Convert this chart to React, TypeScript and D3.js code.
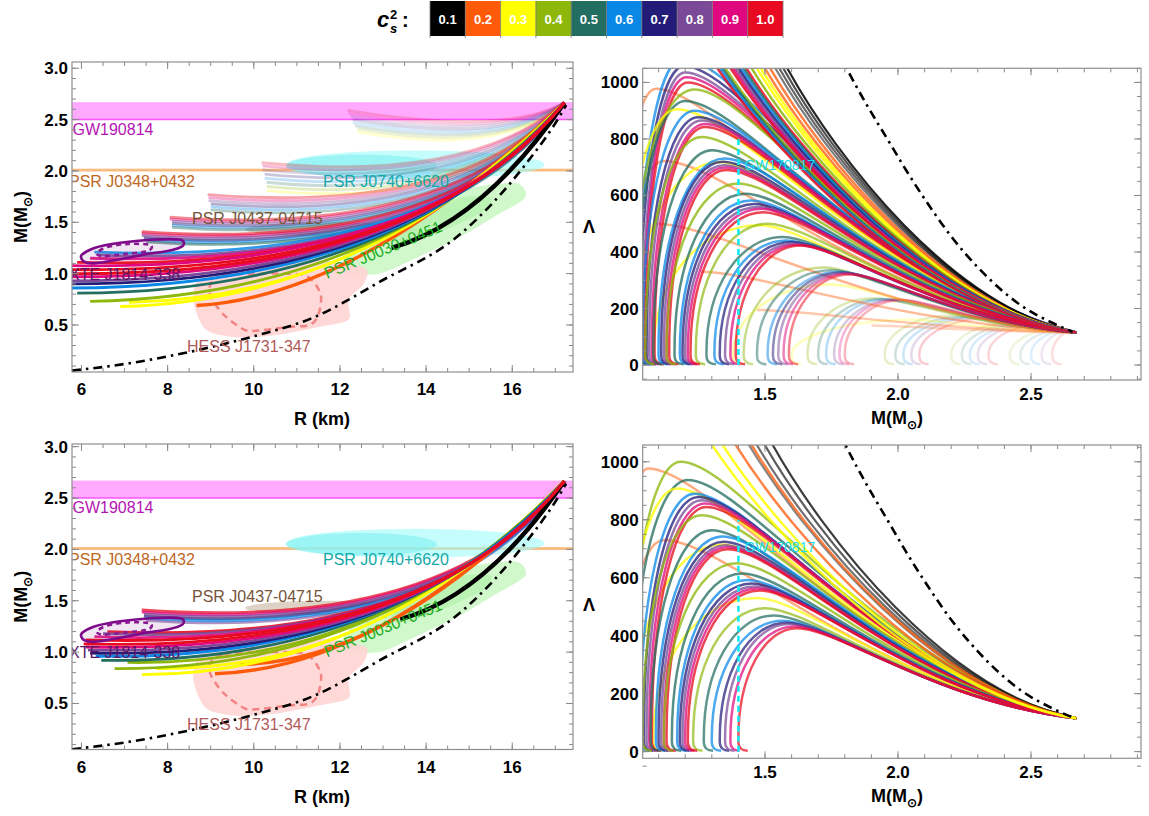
import React from "react";
import * as d3 from "d3";

const FONT = "'Liberation Sans', Arial, Helvetica, sans-serif";

// ---------- legend ----------
const CS2_VALUES = ["0.1", "0.2", "0.3", "0.4", "0.5", "0.6", "0.7", "0.8", "0.9", "1.0"];
const CS2_COLORS = ["#000000", "#ff5a0a", "#ffff00", "#8db70a", "#226e60", "#0a88e8", "#221c78", "#7a4a98", "#e0087e", "#e80a20"];

// ---------- ticks ----------
const R_TICKS = [6, 8, 10, 12, 14, 16];
const M_TICKS_MR = [0.5, 1.0, 1.5, 2.0, 2.5, 3.0];
const M_TICKS_LM = [1.5, 2.0, 2.5];
const LAMBDA_TICKS = [0, 200, 400, 600, 800, 1000];

// ---------- M-R curves: all end at the same point ----------
const MR_END = [17.21, 2.665];
// [R0, M0, Rcontrol, Mcontrol, cs2 index, opacity]
const mrTopCurves = [
  [12.18, 2.59, 15.8, 2.34, 9, 0.2], [12.2, 2.56, 15.8, 2.31, 8, 0.2], [12.25, 2.53, 15.8, 2.28, 7, 0.2],
  [12.3, 2.5, 15.8, 2.25, 6, 0.18], [12.3, 2.47, 15.8, 2.22, 5, 0.18], [12.35, 2.44, 15.8, 2.19, 4, 0.18],
  [12.4, 2.41, 15.8, 2.16, 3, 0.18], [12.4, 2.38, 15.8, 2.13, 2, 0.18],
  [10.18, 2.08, 15.0, 1.88, 9, 0.28], [10.2, 2.05, 15.0, 1.85, 8, 0.28], [10.2, 2.01, 15.0, 1.81, 7, 0.25],
  [10.25, 1.97, 15.0, 1.77, 6, 0.25], [10.25, 1.93, 15.0, 1.73, 5, 0.25], [10.3, 1.89, 15.0, 1.69, 4, 0.25],
  [10.3, 1.85, 15.0, 1.65, 3, 0.25], [10.3, 1.81, 15.0, 1.61, 2, 0.25],
  [8.93, 1.77, 14.8, 1.57, 9, 0.38], [8.95, 1.74, 14.8, 1.54, 8, 0.35], [8.95, 1.71, 14.8, 1.51, 7, 0.35],
  [9.0, 1.68, 14.8, 1.48, 6, 0.35], [9.0, 1.65, 14.8, 1.45, 5, 0.35], [9.0, 1.62, 14.8, 1.42, 4, 0.35],
  [8.05, 1.55, 14.6, 1.35, 9, 0.48], [8.05, 1.53, 14.6, 1.33, 8, 0.45], [8.1, 1.51, 14.6, 1.31, 7, 0.45],
  [8.1, 1.49, 14.6, 1.29, 6, 0.42], [8.1, 1.47, 14.6, 1.27, 5, 0.42], [8.1, 1.45, 14.6, 1.25, 4, 0.42],
  [7.4, 1.41, 14.5, 1.2, 9, 0.62], [7.4, 1.39, 14.5, 1.18, 8, 0.6], [7.4, 1.37, 14.5, 1.16, 7, 0.6],
  [7.45, 1.35, 14.5, 1.14, 6, 0.58], [7.5, 1.33, 14.5, 1.12, 5, 0.58], [7.5, 1.31, 14.5, 1.1, 4, 0.58],
  [13.2, 1.25, 15.3, 1.5, 0, 1],
  [6.3, 1.21, 14.3, 1.08, 5, 0.85], [6.4, 1.18, 14.3, 1.06, 7, 0.9], [6.2, 1.15, 14.2, 1.04, 8, 0.9],
  [5.9, 1.11, 14.1, 1.02, 9, 0.95],
  [8.67, 0.69, 12.5, 0.78, 1, 1], [6.9, 0.68, 12.6, 0.73, 2, 1], [7.1, 0.72, 12.8, 0.76, 2, 1],
  [6.2, 0.73, 13.0, 0.78, 3, 1], [5.9, 0.81, 13.3, 0.82, 4, 1], [5.6, 0.86, 13.5, 0.85, 5, 1],
  [5.6, 0.9, 13.6, 0.88, 6, 1], [5.6, 0.93, 13.7, 0.91, 7, 1], [5.6, 0.97, 13.8, 0.94, 8, 1],
  [5.6, 1.08, 14.0, 1.0, 8, 1], [5.6, 1.04, 14.0, 0.98, 9, 1], [5.6, 1.0, 13.9, 0.96, 9, 1],
];
const mrBottomCurves = [
  [7.4, 1.41, 14.6, 1.2, 9, 0.75], [7.4, 1.39, 14.6, 1.18, 8, 0.75], [7.45, 1.37, 14.6, 1.16, 7, 0.75],
  [7.45, 1.35, 14.6, 1.14, 6, 0.7], [7.5, 1.33, 14.6, 1.12, 5, 0.7], [7.5, 1.31, 14.6, 1.1, 7, 0.6],
  [13.4, 1.32, 15.4, 1.55, 0, 1],
  [6.6, 1.2, 14.3, 1.06, 9, 0.9], [6.5, 1.18, 14.3, 1.05, 7, 0.9], [6.3, 1.15, 14.2, 1.03, 8, 0.9],
  [9.1, 0.79, 13.0, 0.84, 1, 1], [9.67, 0.88, 13.2, 0.9, 1, 1], [7.4, 0.78, 12.8, 0.78, 2, 1],
  [7.74, 0.84, 13.0, 0.82, 2, 1], [6.77, 0.84, 13.0, 0.82, 3, 1], [7.07, 0.9, 13.1, 0.86, 3, 1],
  [6.46, 0.92, 13.3, 0.88, 4, 1], [6.33, 0.96, 13.5, 0.91, 5, 1], [6.2, 0.99, 13.7, 0.93, 6, 1],
  [6.15, 1.02, 13.8, 0.95, 7, 1], [6.1, 1.05, 13.9, 0.97, 8, 1], [6.05, 1.08, 14.0, 0.99, 9, 1],
  [6.1, 1.12, 14.1, 1.01, 9, 1],
];

// causality-type dash-dot bound in the M-R plane [R, M]
const causalMR = [[5.78, 0.055], [7, 0.12], [8.75, 0.26], [10, 0.39], [11.37, 0.57], [12.92, 0.92], [14.78, 1.38], [16.3, 2.06], [17.14, 2.56], [17.25, 2.64]];

// observations in M-R
const GW190814_BAND = [2.5, 2.67];
const J0348_BAND = [1.995, 2.022];
const J0740_OUTER = [13.75, 2.06, 3.0, 0.14];
const J0740_INNER = [12.5, 2.05, 1.75, 0.11];
const J0437_ELLIPSE = [11.8, 1.43, 2.0, 0.07];
const J0030_REGION = [[12.0, 1.02], [12.9, 1.0], [13.8, 1.16], [14.8, 1.36], [15.6, 1.56], [16.3, 1.74], [16.1, 1.88], [15.1, 1.84], [14.1, 1.68], [13.1, 1.48], [12.3, 1.26]];
const J0030_INNER = [[13.4, 1.28], [14.4, 1.42], [15.3, 1.6], [15.5, 1.74], [14.8, 1.74], [13.9, 1.56], [13.2, 1.4]];
const HESS_REGION = [[8.6, 0.72], [8.7, 0.95], [9.2, 1.1], [10.5, 1.15], [11.8, 1.12], [12.6, 1.05], [12.55, 0.9], [12.2, 0.75], [12.2, 0.55], [11.5, 0.48], [10.5, 0.4], [9.6, 0.38], [8.9, 0.45]];
const HESS_CONTOUR = [[9.0, 0.9], [9.3, 0.98], [10.2, 1.0], [11.2, 0.98], [11.55, 0.8], [11.5, 0.6], [11.3, 0.5], [10.8, 0.48], [10.2, 0.45], [9.8, 0.45], [9.3, 0.6], [9.0, 0.78]];
const XTE_OUTER = [[6.0, 1.18], [6.3, 1.25], [6.9, 1.3], [7.6, 1.33], [8.3, 1.33], [8.35, 1.27], [8.0, 1.22], [7.5, 1.19], [6.9, 1.14], [6.3, 1.1], [6.05, 1.12]];
const XTE_INNER = [[6.35, 1.2], [6.6, 1.26], [7.1, 1.29], [7.6, 1.28], [7.55, 1.22], [7.0, 1.19], [6.5, 1.17]];

// ---------- Lambda-M curves ----------
const LM_END = [2.67, 115];
// arches [M at base, M at peak, Lambda at peak, cs2 index, opacity]
const lmTopArches = [
  [1.02, 1.19, 1085, 5, 0.9], [1.03, 1.196, 1058, 6, 0.9], [1.04, 1.2, 1035, 7, 0.9], [1.045, 1.205, 1018, 8, 0.9], [1.05, 1.21, 1000, 9, 0.9],
  [0.99, 1.235, 975, 3, 0.9], [1.01, 1.2, 934, 4, 0.9], [0.97, 1.17, 905, 2, 0.9], [1.04, 1.235, 900, 5, 0.9], [1.055, 1.249, 877, 6, 0.9],
  [1.065, 1.262, 865, 7, 0.9], [1.075, 1.275, 853, 8, 0.9], [1.085, 1.275, 842, 9, 0.9],
  [1.05, 1.262, 807, 3, 0.9], [1.0, 1.33, 718, 2, 0.85], [1.08, 1.3, 760, 4, 0.9], [1.1, 1.348, 731, 5, 0.9], [1.11, 1.341, 719, 6, 0.9],
  [1.12, 1.345, 707, 7, 0.9], [1.13, 1.35, 699, 8, 0.9], [1.14, 1.354, 690, 9, 0.9],
  [1.13, 1.4, 642, 3, 0.9], [1.08, 1.48, 495, 2, 0.8], [1.16, 1.427, 606, 4, 0.9], [1.18, 1.447, 582, 5, 0.9], [1.19, 1.46, 570, 6, 0.9],
  [1.2, 1.472, 559, 7, 0.9], [1.21, 1.485, 553, 8, 0.9], [1.22, 1.493, 541, 9, 0.9],
  [1.24, 1.51, 500, 3, 0.8], [1.28, 1.566, 453, 4, 0.85], [1.31, 1.58, 441, 5, 0.85], [1.33, 1.6, 435, 6, 0.85],
  [1.35, 1.61, 429, 7, 0.85], [1.37, 1.62, 426, 8, 0.85], [1.39, 1.632, 423, 9, 0.85],
  [1.42, 1.72, 345, 3, 0.55], [1.38, 1.75, 285, 2, 0.4], [1.47, 1.75, 335, 4, 0.6], [1.51, 1.78, 330, 5, 0.6],
  [1.53, 1.79, 327, 6, 0.6], [1.55, 1.8, 325, 7, 0.6], [1.57, 1.81, 323, 8, 0.6], [1.59, 1.82, 320, 9, 0.6],
  [1.66, 1.91, 236, 3, 0.35], [1.6, 2.05, 160, 2, 0.28], [1.7, 1.94, 234, 4, 0.35], [1.73, 1.96, 233, 5, 0.35],
  [1.76, 1.99, 232, 7, 0.35], [1.78, 2.0, 231, 8, 0.35], [1.8, 2.02, 230, 9, 0.35],
  [1.95, 2.2, 175, 3, 0.25], [1.99, 2.25, 172, 4, 0.25], [2.02, 2.28, 170, 5, 0.25], [2.05, 2.3, 168, 7, 0.25], [2.08, 2.33, 165, 9, 0.25],
  [2.2, 2.42, 148, 3, 0.2], [2.24, 2.45, 145, 4, 0.2], [2.27, 2.47, 142, 5, 0.2], [2.3, 2.49, 140, 7, 0.2], [2.34, 2.51, 138, 9, 0.2],
  [2.42, 2.6, 128, 3, 0.16], [2.46, 2.62, 125, 4, 0.16], [2.5, 2.63, 122, 5, 0.16], [2.54, 2.64, 120, 7, 0.16], [2.58, 2.65, 118, 9, 0.16],
  [0.95, 1.09, 978, 1, 0.6], [0.97, 1.12, 722, 1, 0.6],
];
// curves starting mid-plot [M start, Lambda start, cs2 index, opacity]
const lmTopFlats = [[1.09, 500, 1, 0.55], [1.26, 330, 1, 0.5], [1.47, 195, 1, 0.4], [1.9, 140, 1, 0.3]];
// curves entering from above the frame [M at top, cs2 index, opacity]
const lmTopDescents = [
  [1.575, 0, 1], [1.56, 0, 0.8], [1.545, 0, 0.7], [1.53, 0, 0.6], [1.51, 1, 0.9], [1.49, 1, 0.9],
  [1.475, 2, 1], [1.46, 2, 1], [1.44, 3, 1], [1.42, 9, 1], [1.41, 4, 1], [1.4, 5, 1], [1.39, 6, 1],
  [1.38, 7, 1], [1.37, 8, 1], [1.36, 9, 1], [1.34, 3, 1], [1.33, 4, 1], [1.32, 5, 1], [1.31, 9, 1],
];
const lmBottomArches = [
  [0.99, 1.183, 1000, 3, 0.9], [0.95, 1.06, 977, 1, 0.6], [1.0, 1.21, 937, 4, 0.9], [0.97, 1.17, 908, 2, 0.9],
  [1.03, 1.235, 890, 5, 0.9], [1.045, 1.249, 879, 6, 0.9], [1.055, 1.262, 867, 7, 0.9], [1.065, 1.275, 856, 8, 0.9], [1.075, 1.28, 844, 9, 0.9],
  [1.04, 1.262, 816, 3, 0.9], [0.96, 1.12, 730, 1, 0.6], [1.0, 1.34, 715, 2, 0.85], [1.07, 1.3, 764, 4, 0.9], [1.09, 1.34, 742, 5, 0.9],
  [1.1, 1.345, 724, 6, 0.9], [1.11, 1.35, 712, 7, 0.9], [1.12, 1.355, 705, 8, 0.9], [1.13, 1.36, 698, 9, 0.9],
  [1.12, 1.394, 650, 3, 0.9], [1.08, 1.47, 530, 2, 0.8], [1.15, 1.414, 615, 4, 0.9], [1.17, 1.434, 592, 5, 0.9],
  [1.18, 1.45, 580, 6, 0.9], [1.19, 1.46, 570, 7, 0.9], [1.2, 1.47, 563, 8, 0.9], [1.21, 1.48, 556, 9, 0.9],
  [1.23, 1.5, 495, 3, 0.8], [1.27, 1.533, 470, 4, 0.85], [1.3, 1.566, 452, 5, 0.85], [1.33, 1.58, 445, 6, 0.85],
  [1.35, 1.59, 440, 7, 0.85], [1.37, 1.61, 432, 8, 0.85], [1.4, 1.62, 426, 9, 0.85],
];
const lmBottomFlats = [];
const lmBottomDescents = [
  [1.52, 0, 0.9], [1.49, 0, 0.75], [1.46, 0, 0.65], [1.43, 0, 0.55], [1.44, 1, 0.9], [1.38, 1, 0.9], [1.33, 2, 1], [1.29, 2, 1],
];
const causalLM = [[1.78, 1100], [1.804, 1055], [1.883, 920], [1.963, 795], [2.03, 690], [2.12, 560], [2.2, 455], [2.306, 340], [2.464, 210], [2.583, 148], [2.656, 118]];
const GW170817_M = 1.4;
const GW170817_TOP = 800;

// ---------- scales ----------
const xMR = d3.scaleLinear().domain([5.78, 17.41]).range([72, 573]);
const yTL = d3.scaleLinear().domain([0.042, 3.061]).range([372, 62]);
const yBL = d3.scaleLinear().domain([0.052, 3.026]).range([749.5, 444]);
const xLM = d3.scaleLinear().domain([1.0402, 2.9135]).range([642.7, 1141]);
const yTR = d3.scaleLinear().domain([-53, 1050]).range([380, 68.3]);
const yBR = d3.scaleLinear().domain([-23, 1058]).range([758.3, 445]);

// ---------- path helpers ----------
function mrPath(x: any, y: any, c: number[]) {
  const p = d3.path();
  p.moveTo(x(c[0]), y(c[1]));
  p.quadraticCurveTo(x(c[2]), y(c[3]), x(MR_END[0]), y(MR_END[1]));
  return p.toString();
}
function descendTo(p: any, x: any, y: any, Ms: number, Ls: number) {
  const [Me, Le] = LM_END;
  p.bezierCurveTo(x(Ms + 0.15 * (Me - Ms)), y(Ls), x(Me - 0.5 * (Me - Ms)), y(Le + 0.18 * (Ls - Le)), x(Me), y(Le));
}
function archPath(x: any, y: any, a: number[]) {
  const [Mb, Mp, Lp] = a;
  const p = d3.path();
  p.moveTo(x(Mb + 0.035), y(3));
  p.quadraticCurveTo(x(Mb), y(3), x(Mb), y(32));
  p.bezierCurveTo(x(Mb - 0.004), y(0.62 * Lp), x(Mb + 0.45 * (Mp - Mb)), y(Lp), x(Mp), y(Lp));
  descendTo(p, x, y, Mp, Lp);
  return p.toString();
}
function flatPath(x: any, y: any, f: number[]) {
  const p = d3.path();
  p.moveTo(x(f[0]), y(f[1]));
  descendTo(p, x, y, f[0], f[1]);
  return p.toString();
}
function descentPath(x: any, y: any, Mt: number, Ltop: number) {
  const [Me, Le] = LM_END;
  const p = d3.path();
  p.moveTo(x(Mt), y(Ltop));
  p.bezierCurveTo(x(Mt + 0.18 * (Me - Mt)), y(Ltop - 0.36 * (Ltop - Le)), x(Me - 0.42 * (Me - Mt)), y(Le + 0.09 * (Ltop - Le)), x(Me), y(Le));
  return p.toString();
}

// ---------- frame ----------
function Frame({ x, y, xMajor, xMinor, yMajor, yMinor, xFmt, yFmt, xLabOff }: any) {
  const [xl, xr] = x.range();
  const [yb, yt] = y.range();
  const MJ = 7, MN = 4;
  const tc = "#8a8a8a";
  return (
    <g>
      {xMinor.map((v: number, i: number) => (
        <g key={"xn" + i} stroke={tc} strokeWidth={1}>
          <line x1={x(v)} x2={x(v)} y1={yb} y2={yb - MN} />
          <line x1={x(v)} x2={x(v)} y1={yt} y2={yt + MN} />
        </g>
      ))}
      {yMinor.map((v: number, i: number) => (
        <g key={"yn" + i} stroke={tc} strokeWidth={1}>
          <line x1={xl} x2={xl + MN} y1={y(v)} y2={y(v)} />
          <line x1={xr} x2={xr - MN} y1={y(v)} y2={y(v)} />
        </g>
      ))}
      {xMajor.map((v: number, i: number) => (
        <g key={"xj" + i}>
          <line x1={x(v)} x2={x(v)} y1={yb} y2={yb - MJ} stroke={tc} />
          <line x1={x(v)} x2={x(v)} y1={yt} y2={yt + MJ} stroke={tc} />
          <text x={x(v)} y={yb + xLabOff} textAnchor="middle" fontFamily={FONT} fontWeight="bold" fontSize={17}>{xFmt(v)}</text>
        </g>
      ))}
      {yMajor.map((v: number, i: number) => (
        <g key={"yj" + i}>
          <line x1={xl} x2={xl + MJ} y1={y(v)} y2={y(v)} stroke={tc} />
          <line x1={xr} x2={xr - MJ} y1={y(v)} y2={y(v)} stroke={tc} />
          <text x={xl - 4} y={y(v) + 6} textAnchor="end" fontFamily={FONT} fontWeight="bold" fontSize={17}>{yFmt(v)}</text>
        </g>
      ))}
      <rect x={xl} y={yt} width={xr - xl} height={yb - yt} fill="none" stroke="#8f8f8f" strokeWidth={1.2} />
    </g>
  );
}

function rangeTicks(a: number, b: number, s: number) {
  return d3.range(Math.round(a / s), Math.round(b / s) + 1).map((k) => +(k * s).toFixed(4));
}

// ---------- M-R panel ----------
function MRPanel({ id, y, curves }: any) {
  const x = xMR;
  const [xl, xr] = x.range();
  const [yb, yt] = y.range();
  const open = d3.line<number[]>().x((d) => x(d[0])).y((d) => y(d[1])).curve(d3.curveMonotoneX);
  const closed = d3.line<number[]>().x((d) => x(d[0])).y((d) => y(d[1])).curve(d3.curveCardinalClosed.tension(0.2));
  const ell = (e: number[], props: any) => (
    <ellipse cx={x(e[0])} cy={y(e[1])} rx={x(e[0] + e[2]) - x(e[0])} ry={y(e[1]) - y(e[1] + e[3])} {...props} />
  );
  const dy = y(1.0) - yTL(1.0);
  // stable sort by opacity: faded families underneath, opaque on top, original order kept otherwise
  const sorted = curves.map((c: number[], i: number) => [c, i] as [number[], number])
    .sort((a: any, b: any) => a[0][5] - b[0][5] || a[1] - b[1]).map((d: any) => d[0]);
  const labelProps = { fontFamily: FONT, fontSize: 16 };
  return (
    <g>
      <defs>
        <clipPath id={id}>
          <rect x={xl} y={yt} width={xr - xl} height={yb - yt} />
        </clipPath>
      </defs>
      <g clipPath={`url(#${id})`}>
        <rect x={xl} y={y(GW190814_BAND[1])} width={xr - xl} height={y(GW190814_BAND[0]) - y(GW190814_BAND[1])} fill="#ffaaff" />
        <line x1={xl} x2={xr} y1={y(GW190814_BAND[0])} y2={y(GW190814_BAND[0])} stroke="#ff55ff" strokeWidth={1.5} />
        <rect x={xl} y={y(J0348_BAND[1])} width={xr - xl} height={y(J0348_BAND[0]) - y(J0348_BAND[1])} fill="#f8bb80" />
        {ell(J0740_OUTER, { fill: "#9ffafa", opacity: 0.6 })}
        {ell(J0740_INNER, { fill: "#7ef0f0", opacity: 0.6 })}
        {ell(J0437_ELLIPSE, { fill: "#d6c6b6", opacity: 0.8 })}
        <path d={closed(J0030_REGION as any) || ""} fill="#c4f6bd" opacity={0.8} />
        <path d={closed(J0030_INNER as any) || ""} fill="#a6ee9e" opacity={0.5} />
        <path d={closed(HESS_REGION as any) || ""} fill="#ffd4d4" opacity={0.9} />
        <path d={closed(HESS_CONTOUR as any) || ""} fill="none" stroke="#f28484" strokeWidth={2.5} strokeDasharray="7,5" />
        <path d={open(causalMR as any) || ""} fill="none" stroke="#000" strokeWidth={2.6} strokeDasharray="9,5,2.5,5" />
        {sorted.map((c: number[], i: number) => (
          <path key={i} d={mrPath(x, y, c)} fill="none" stroke={CS2_COLORS[c[4]]} strokeOpacity={c[5]}
            strokeWidth={c[4] === 0 ? 4.5 : c[4] === 1 ? 3.4 : 2.8} strokeLinecap="butt" />
        ))}
        <path d={closed(XTE_OUTER as any) || ""} fill="rgba(140,60,160,0.12)" stroke="#7e0a8a" strokeWidth={2.6} />
        <path d={closed(XTE_INNER as any) || ""} fill="none" stroke="#8a1a92" strokeWidth={2.6} strokeDasharray="5,4" />
        <text x={72.5} y={135 + dy} fill="#b414b4" {...labelProps}>GW190814</text>
        <text x={69} y={187 + dy} fill="#c0671f" {...labelProps}>PSR J0348+0432</text>
        <text x={323} y={186.5 + dy} fill="#14a8a8" {...labelProps}>PSR J0740+6620</text>
        <text x={192} y={223.5 + dy} fill="#76553a" {...labelProps}>PSR J0437-04715</text>
        <text x={69} y={279.5 + dy} fill="#5c1466" {...labelProps}>XTE J1814-338</text>
        <text x={0} y={0} fill="#1fae1f" {...labelProps} transform={`translate(327,${279 + dy}) rotate(-22.5)`}>PSR J0030+0451</text>
        <text x={187} y={351.5 + dy} fill="#b05a5a" {...labelProps}>HESS J1731-347</text>
      </g>
      <Frame x={x} y={y} xMajor={R_TICKS} xMinor={rangeTicks(6, 17, 0.5)} yMajor={M_TICKS_MR}
        yMinor={rangeTicks(0.1, 3.0, 0.1)} xFmt={(v: number) => String(v)} yFmt={(v: number) => v.toFixed(1)} xLabOff={23} />
      <text x={322} y={yb + 53} textAnchor="middle" fontFamily={FONT} fontWeight="bold" fontSize={18}>R (km)</text>
      <text transform={`translate(27,${(yt + yb) / 2}) rotate(-90)`} textAnchor="middle" fontFamily={FONT} fontWeight="bold" fontSize={18}>
        M(M<tspan dy={5} fontSize={12}>⊙</tspan><tspan dy={-5}>)</tspan>
      </text>
    </g>
  );
}

// ---------- Lambda-M panel ----------
function LMPanel({ id, y, arches, flats, descents }: any) {
  const x = xLM;
  const [xl, xr] = x.range();
  const [yb, yt] = y.range();
  const ltop = y.domain()[1] + 15;
  const open = d3.line<number[]>().x((d) => x(d[0])).y((d) => y(d[1])).curve(d3.curveMonotoneX);
  type Item = { d: string; c: number; o: number; w: number };
  const items: Item[] = [];
  arches.forEach((a: number[]) => items.push({ d: archPath(x, y, a), c: a[3], o: a[4], w: 2.5 }));
  flats.forEach((f: number[]) => items.push({ d: flatPath(x, y, f), c: f[2], o: f[3], w: 2.5 }));
  descents.forEach((s: number[]) => items.push({ d: descentPath(x, y, s[0], ltop), c: s[1], o: s[2], w: s[1] === 0 ? 2.2 : 2.5 }));
  items.sort((a, b) => a.o - b.o);
  const dy = yb - yTR.range()[0];
  return (
    <g>
      <defs>
        <clipPath id={id}>
          <rect x={xl} y={yt} width={xr - xl} height={yb - yt} />
        </clipPath>
      </defs>
      <g clipPath={`url(#${id})`}>
        {items.map((it, i) => (
          <path key={i} d={it.d} fill="none" stroke={CS2_COLORS[it.c]} strokeOpacity={it.o * 0.85} strokeWidth={it.w} />
        ))}
        <path d={open(causalLM as any) || ""} fill="none" stroke="#000" strokeWidth={2.6} strokeDasharray="9,5,2.5,5" />
        <line x1={x(GW170817_M)} x2={x(GW170817_M)} y1={y(0)} y2={y(GW170817_TOP)} stroke="#10eaf5" strokeWidth={2.6} strokeDasharray="6,4" />
        <text x={x(GW170817_M) + 6} y={y(690)} fill="#18dde8" fontFamily={FONT} fontSize={14}>GW170817</text>
      </g>
      <Frame x={x} y={y} xMajor={M_TICKS_LM} xMinor={rangeTicks(1.1, 2.9, 0.1)} yMajor={LAMBDA_TICKS}
        yMinor={rangeTicks(-50, 1050, 50)} xFmt={(v: number) => v.toFixed(1)} yFmt={(v: number) => String(v)} xLabOff={20} />
      <text x={897} y={yb + 44} textAnchor="middle" fontFamily={FONT} fontWeight="bold" fontSize={18}>
        M(M<tspan dy={5} fontSize={12}>⊙</tspan><tspan dy={-5}>)</tspan>
      </text>
      <text x={589} y={233 + dy} textAnchor="middle" fontFamily={FONT} fontWeight="bold" fontSize={18}>Λ</text>
    </g>
  );
}

function Legend() {
  const x0 = 430, w = 35.3;
  return (
    <g>
      <text x={377} y={27} fontFamily={FONT} fontWeight="bold" fontStyle="italic" fontSize={22}>c</text>
      <text x={390} y={19} fontFamily={FONT} fontWeight="bold" fontSize={13}>2</text>
      <text x={390} y={33} fontFamily={FONT} fontWeight="bold" fontStyle="italic" fontSize={13}>s</text>
      <text x={402} y={27} fontFamily={FONT} fontWeight="bold" fontSize={20}>:</text>
      {CS2_VALUES.map((v, i) => (
        <g key={v}>
          <rect x={x0 + i * w} y={1} width={w} height={35} fill={CS2_COLORS[i]} />
          <line x1={x0 + i * w} x2={x0 + i * w} y1={1} y2={38} stroke="#777" strokeWidth={0.8} />
          <text x={x0 + i * w + w / 2} y={24} textAnchor="middle" fill="#fff" fontFamily={FONT} fontWeight="bold" fontSize={13}>{v}</text>
        </g>
      ))}
      <line x1={x0 + 10 * w} x2={x0 + 10 * w} y1={1} y2={38} stroke="#777" strokeWidth={0.8} />
    </g>
  );
}

export default function App() {
  return (
    <svg width={1149} height={816} style={{ position: "absolute", left: 0, top: 0, background: "#fff" }}>
      <rect width={1149} height={816} fill="#fff" />
      <Legend />
      <MRPanel id="clipTL" y={yTL} curves={mrTopCurves} />
      <MRPanel id="clipBL" y={yBL} curves={mrBottomCurves} />
      <LMPanel id="clipTR" y={yTR} arches={lmTopArches} flats={lmTopFlats} descents={lmTopDescents} />
      <LMPanel id="clipBR" y={yBR} arches={lmBottomArches} flats={lmBottomFlats} descents={lmBottomDescents} />
    </svg>
  );
}
